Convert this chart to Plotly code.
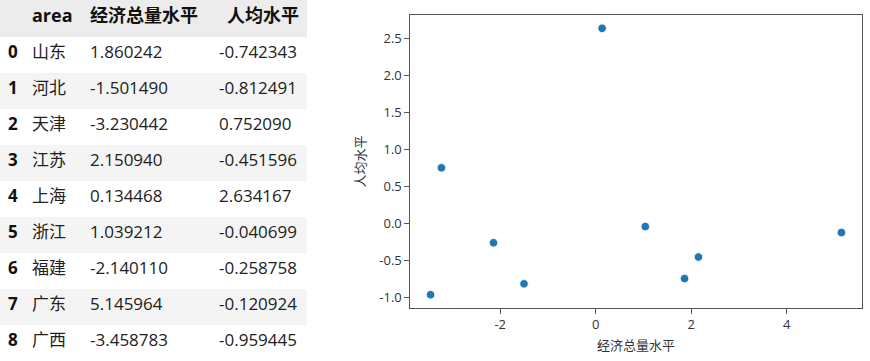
import plotly.graph_objects as go

# ---- data ----
idx = [0, 1, 2, 3, 4, 5, 6, 7, 8]
area = ["山东", "河北", "天津", "江苏", "上海", "浙江", "福建", "广东", "广西"]
econ = [1.860242, -1.501490, -3.230442, 2.150940, 0.134468, 1.039212, -2.140110, 5.145964, -3.458783]
percap = [-0.742343, -0.812491, 0.752090, -0.451596, 2.634167, -0.040699, -0.258758, -0.120924, -0.959445]
headers = ["", "area", "经济总量水平", "人均水平"]
x_title = "经济总量水平"
y_title = "人均水平"
x_tick_vals = [-2, 0, 2, 4]
x_tick_labels = ["-2", "0", "2", "4"]
y_tick_vals = [-1.0, -0.5, 0.0, 0.5, 1.0, 1.5, 2.0, 2.5]
y_tick_labels = ["-1.0", "-0.5", "0.0", "0.5", "1.0", "1.5", "2.0", "2.5"]

W, H = 870, 361
FONT = "Open Sans, Noto Sans CJK SC, sans-serif"

row_fill = ["#ffffff" if i % 2 == 0 else "#f4f4f4" for i in range(len(idx))]

table = go.Table(
    domain=dict(x=[0, 307 / W], y=[0, 1]),
    columnwidth=[24, 58, 129, 96],
    header=dict(
        values=headers,
        fill_color="#ececec",
        line=dict(color="#ececec", width=0),
        align=["left", "left", "left", "right"],
        font=dict(family=FONT, size=18, color="#111111", weight=700),
        height=37,
    ),
    cells=dict(
        values=[[str(i) for i in idx], area,
                ["%.6f" % v for v in econ], ["%.6f" % v for v in percap]],
        fill_color=[row_fill] * 4,
        line=dict(color="#ffffff", width=0),
        align="left",
        font=dict(family=FONT, size=17,
                  color=["#111111", "#222222", "#222222", "#222222"],
                  weight=[700, 400, 400, 400]),
        height=36,
    ),
)

scatter = go.Scatter(
    x=econ, y=percap, mode="markers",
    marker=dict(size=8.5, color="#1f77b4", line=dict(color="white", width=0.8)),
    showlegend=False,
)

fig = go.Figure([table, scatter])

xr = [min(econ), max(econ)]
yr = [min(percap), max(percap)]
xm = 0.05 * (xr[1] - xr[0])
ym = 0.05 * (yr[1] - yr[0])

axis_common = dict(
    showgrid=False, zeroline=False, showline=True, mirror=True,
    linecolor="#555555", linewidth=1.2,
    ticks="outside", ticklen=4.5, tickwidth=1, tickcolor="#555555",
    tickfont=dict(family=FONT, size=13, color="#333333"),
)

fig.update_layout(
    width=W, height=H,
    margin=dict(l=0, r=0, t=0, b=0),
    paper_bgcolor="white", plot_bgcolor="white",
    xaxis=dict(
        domain=[410 / W, 862 / W],
        range=[xr[0] - xm, xr[1] + xm],
        tickvals=x_tick_vals, ticktext=x_tick_labels,
        title=dict(text=x_title, font=dict(family=FONT, size=13, color="#333333"), standoff=8),
        **axis_common,
    ),
    yaxis=dict(
        domain=[(H - 308) / H, (H - 15) / H],
        range=[yr[0] - ym, yr[1] + ym],
        tickvals=y_tick_vals, ticktext=y_tick_labels,
        title=dict(text=y_title, font=dict(family=FONT, size=13, color="#333333"), standoff=10),
        **axis_common,
    ),
)

fig.write_html("out.html")
